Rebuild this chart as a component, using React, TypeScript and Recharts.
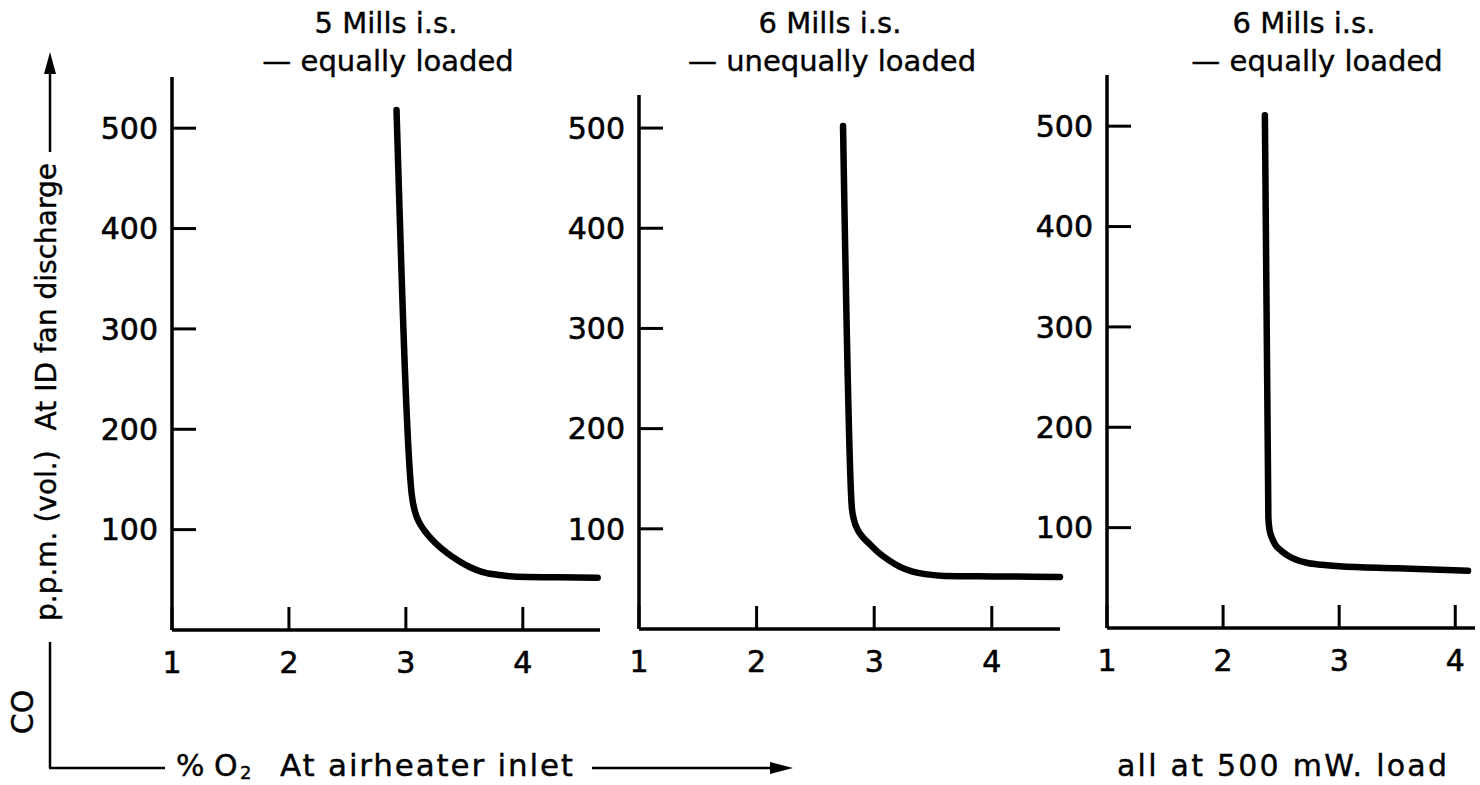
import { LineChart, Line, XAxis, YAxis } from "recharts";

// CO (p.p.m.) vs % O2 for three mill configurations
const xTicks = [1, 2, 3, 4];
const yTicks = [100, 200, 300, 400, 500];

const fiveMillsEqualO2 = [2.92, 3.05, 3.08, 3.12, 3.18, 3.25, 3.35, 3.45, 3.55, 3.65, 3.75, 3.85, 3.95, 4.3, 4.64];
const fiveMillsEqualCO = [518, 135, 117, 106, 96, 87, 77, 69, 62.5, 58, 55.5, 54, 53, 52.5, 52];

const sixMillsUnequalO2 = [2.735, 2.81, 2.83, 2.86, 2.9, 2.96, 3.03, 3.12, 3.22, 3.32, 3.45, 3.6, 4.0, 4.58];
const sixMillsUnequalCO = [502, 121, 108, 99, 92, 85, 77, 69, 62, 57.5, 54.5, 53, 52.5, 52];

const sixMillsEqualO2 = [2.36, 2.39, 2.4, 2.42, 2.45, 2.5, 2.56, 2.63, 2.72, 2.85, 3.0, 3.5, 4.11];
const sixMillsEqualCO = [511, 110, 98, 90, 83, 77, 72, 68, 65, 63, 61.5, 59.5, 57];

const panelTitles = [
  ["5 Mills i.s.", "— equally loaded"],
  ["6 Mills i.s.", "— unequally loaded"],
  ["6 Mills i.s.", "— equally loaded"],
];

const FONT = '"DejaVu Sans", Verdana, sans-serif';
const Y_W = 80;
const X_H = 60;
const PAD = 10;

function YTick({ x, y, payload }: any) {
  return (
    <g>
      <line x1={x} y1={y} x2={x + 24} y2={y} stroke="#000" strokeWidth={3} />
      <text
        x={x - 14}
        y={y}
        dy="0.36em"
        textAnchor="end"
        fontSize={30}
        fontFamily={FONT}
        fill="#000"
        stroke="#000"
        strokeWidth={0.6}
      >
        {payload.value}
      </text>
    </g>
  );
}

function XTick({ x, y, payload }: any) {
  return (
    <g>
      <line x1={x} y1={y} x2={x} y2={y - 23} stroke="#000" strokeWidth={3} />
      <text
        x={x}
        y={y + 43}
        textAnchor="middle"
        fontSize={30}
        fontFamily={FONT}
        fill="#000"
        stroke="#000"
        strokeWidth={0.6}
      >
        {payload.value}
      </text>
    </g>
  );
}

type PanelProps = {
  o2: number[];
  co: number[];
  plotLeft: number;
  plotRight: number;
  plotTop: number;
  plotBottom: number;
  xMax: number;
  yMax: number;
};

function Panel({ o2, co, plotLeft, plotRight, plotTop, plotBottom, xMax, yMax }: PanelProps) {
  const data = o2.map((v, i) => ({ o2: v, co: co[i] }));
  const width = plotRight - plotLeft + Y_W + PAD;
  const height = plotBottom - plotTop + PAD + X_H;
  return (
    <div style={{ position: "absolute", left: plotLeft - Y_W, top: plotTop - PAD }}>
      <LineChart width={width} height={height} data={data} margin={{ top: PAD, right: PAD, bottom: 0, left: 0 }}>
        <XAxis
          dataKey="o2"
          type="number"
          domain={[1, xMax]}
          ticks={xTicks}
          interval={0}
          height={X_H}
          tickSize={0}
          tickMargin={0}
          tickLine={false}
          axisLine={{ stroke: "#000", strokeWidth: 3.5 }}
          tick={<XTick />}
        />
        <YAxis
          type="number"
          domain={[0, yMax]}
          ticks={yTicks}
          interval={0}
          width={Y_W}
          tickSize={0}
          tickMargin={0}
          tickLine={false}
          axisLine={{ stroke: "#000", strokeWidth: 3.5 }}
          tick={<YTick />}
        />
        <Line
          dataKey="co"
          type="monotone"
          stroke="#000"
          strokeWidth={6.5}
          strokeLinecap="round"
          dot={false}
          isAnimationActive={false}
        />
      </LineChart>
    </div>
  );
}

const titleCenters = [
  [386, 388],
  [830, 832],
  [1304, 1317],
];

export default function App() {
  return (
    <div style={{ position: "absolute", left: 0, top: 0, width: 1480, height: 785, background: "#fff", fontFamily: FONT }}>
      <svg width={1480} height={785} style={{ position: "absolute", left: 0, top: 0 }}>
        <g fontFamily={FONT} fill="#000" stroke="#000" strokeWidth={0.4}>
          {panelTitles.map((t, i) => (
            <g key={i}>
              <text x={titleCenters[i][0]} y={33} textAnchor="middle" fontSize={29}>
                {t[0]}
              </text>
              <text x={titleCenters[i][1]} y={71} textAnchor="middle" fontSize={29}>
                {t[1]}
              </text>
            </g>
          ))}
          <text transform="translate(56,621) rotate(-90)" fontSize={28}>
            p.p.m. (vol.)
          </text>
          <text transform="translate(56,163) rotate(-90)" fontSize={28} textAnchor="end">
            At ID fan discharge
          </text>
          <text transform="translate(33,712) rotate(-90)" fontSize={30} textAnchor="middle">
            CO
          </text>
          <text x={176} y={776} fontSize={30}>
            % O
          </text>
          <text x={240} y={779} fontSize={18}>
            2
          </text>
          <text x={280} y={776} fontSize={31} textLength={293} lengthAdjust="spacing">
            At airheater inlet
          </text>
          <text x={1117} y={776} fontSize={30} textLength={330} lengthAdjust="spacing">
            all at 500 mW. load
          </text>
        </g>
        {/* caption arrows */}
        <g stroke="#000" strokeWidth={2.5} fill="#000">
          <line x1={50} y1={152} x2={50} y2={68} />
          <polygon points="50,52 44,74 56,74" strokeWidth={0} />
          <line x1={50} y1={642} x2={50} y2={768} />
          <line x1={49} y1={768} x2={165} y2={768} />
          <line x1={592} y1={768} x2={775} y2={768} />
          <polygon points="793,768 770,762 770,774" strokeWidth={0} />
        </g>
      </svg>
      <Panel o2={fiveMillsEqualO2} co={fiveMillsEqualCO} plotLeft={172} plotRight={600} plotTop={77} plotBottom={630} xMax={4.66} yMax={551} />
      <Panel o2={sixMillsUnequalO2} co={sixMillsUnequalCO} plotLeft={639} plotRight={1060} plotTop={95} plotBottom={629} xMax={4.58} yMax={533} />
      <Panel o2={sixMillsEqualO2} co={sixMillsEqualCO} plotLeft={1107} plotRight={1475} plotTop={75} plotBottom={628} xMax={4.17} yMax={551} />
    </div>
  );
}
